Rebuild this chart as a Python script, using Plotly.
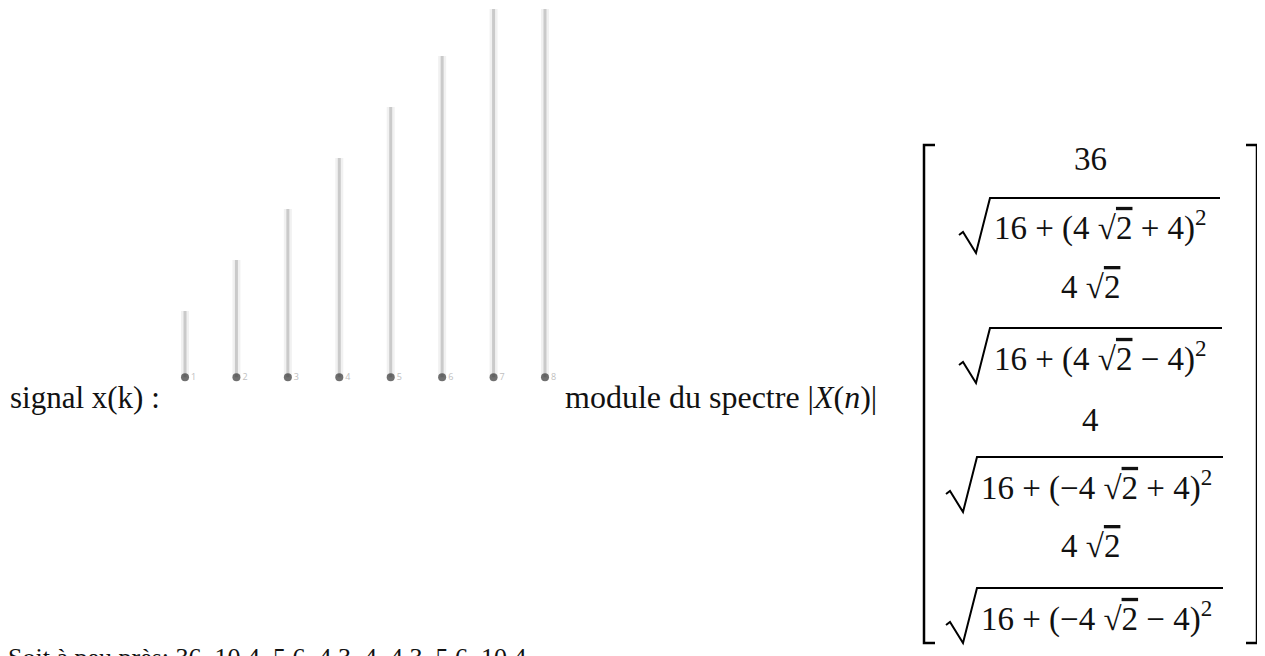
import plotly.graph_objects as go

# ---- data ----
k_index = [1, 2, 3, 4, 5, 6, 7, 8]
signal_x = [1, 2, 3, 4, 5, 6, 7, 8]
stem_labels = ["1", "2", "3", "4", "5", "6", "7", "8"]
R2 = "√<span style='text-decoration:overline'>2</span>"
spectrum_exact = [
    "36",
    f"16 + (4 {R2} + 4)<sup>2</sup>",
    f"4 {R2}",
    f"16 + (4 {R2} − 4)<sup>2</sup>",
    "4",
    f"16 + (−4 {R2} + 4)<sup>2</sup>",
    f"4 {R2}",
    f"16 + (−4 {R2} − 4)<sup>2</sup>",
]
spectrum_is_sqrt = [False, True, False, True, False, True, False, True]
spectrum_approx = ["36", "10.4", "5.6", "4.3", "4", "4.3", "5.6", "10.4"]

# page has an 8px body margin: figure occupies page area from (8,8)
OFF = 8
FW, FH = 1265 - OFF, 656 - OFF
FONT = "Liberation Serif"
FS = 31
FSM = 33
STEM_BASE = -0.3

def px(x):
    return (x - OFF) / FW

def py(y):
    return 1 - (y - OFF) / FH

fig = go.Figure()

# stems (halo + core)
sx, sy = [], []
for k, v in zip(k_index, signal_x):
    sx += [k, k, None]
    sy += [STEM_BASE, v, None]
fig.add_trace(go.Scatter(x=sx, y=sy, mode="lines",
                         line=dict(color="#f1f1f1", width=8), hoverinfo="skip"))
fig.add_trace(go.Scatter(x=sx, y=sy, mode="lines",
                         line=dict(color="#cacaca", width=3), hoverinfo="skip"))
fig.add_trace(go.Scatter(x=k_index, y=[STEM_BASE] * len(k_index), mode="markers+text",
                         marker=dict(color="#404040", size=8, opacity=0.75),
                         text=stem_labels, textposition="middle right",
                         textfont=dict(size=9, color="#c0c0c0"), hoverinfo="skip"))

fig.update_layout(
    width=FW, height=FH,
    margin=dict(l=0, r=0, t=0, b=0),
    paper_bgcolor="white", plot_bgcolor="white",
    showlegend=False,
    xaxis=dict(domain=[px(159.3), px(570.7)], range=[0.5, 8.5], visible=False),
    yaxis=dict(domain=[py(395), py(9)], range=[-0.647, 6.92], visible=False),
)

ann = []
shapes = []

def text(x, y, s, size=FS, xanchor="left", yanchor="middle", color="#111111"):
    ann.append(dict(x=px(x), y=py(y), xref="paper", yref="paper", text=s,
                    showarrow=False, xanchor=xanchor, yanchor=yanchor,
                    font=dict(family=FONT, size=size, color=color)))

# inline texts
text(8, 397, "signal x(k) :")
text(563, 397, "module du spectre |<i>X</i>(<i>n</i>)|", size=32)
text(6, 641, "Soit à peu près: " + ", ".join(spectrum_approx), size=26, yanchor="top")

# matrix brackets
top, bot = 145, 643
lx, rx = 924, 1257
shapes.append(dict(type="path", xref="paper", yref="paper",
                   path=f"M {px(lx+11)},{py(top)} L {px(lx)},{py(top)} L {px(lx)},{py(bot)} L {px(lx+11)},{py(bot)}",
                   line=dict(color="black", width=2.5)))
shapes.append(dict(type="path", xref="paper", yref="paper",
                   path=f"M {px(rx-11)},{py(top)} L {px(rx)},{py(top)} L {px(rx)},{py(bot)} L {px(rx-11)},{py(bot)}",
                   line=dict(color="black", width=2.5)))

row_center = [159, 226, 287, 356, 420, 486, 546, 616]
over_y = [None, 198, None, 328, None, 457, None, 588]
rad_x0 = [None, 963, None, 963, None, 950, None, 950]
over_end = [None, 1220, None, 1222, None, 1223, None, 1223]
cx = 1090

for i, (s, is_sqrt) in enumerate(zip(spectrum_exact, spectrum_is_sqrt)):
    if not is_sqrt:
        text(cx, row_center[i], s, size=FSM, xanchor="center")
    else:
        oy, x0, xe = over_y[i], rad_x0[i], over_end[i]
        path = (f"M {px(x0-4)},{py(oy+37)} L {px(x0)},{py(oy+34)} "
                f"L {px(x0+13)},{py(oy+55)} L {px(x0+27)},{py(oy)} L {px(xe)},{py(oy)}")
        shapes.append(dict(type="path", xref="paper", yref="paper", path=path,
                           line=dict(color="black", width=2)))
        text(x0 + 29, row_center[i], s, size=FSM)

fig.update_layout(annotations=ann, shapes=shapes)
fig.write_html("out.html")
